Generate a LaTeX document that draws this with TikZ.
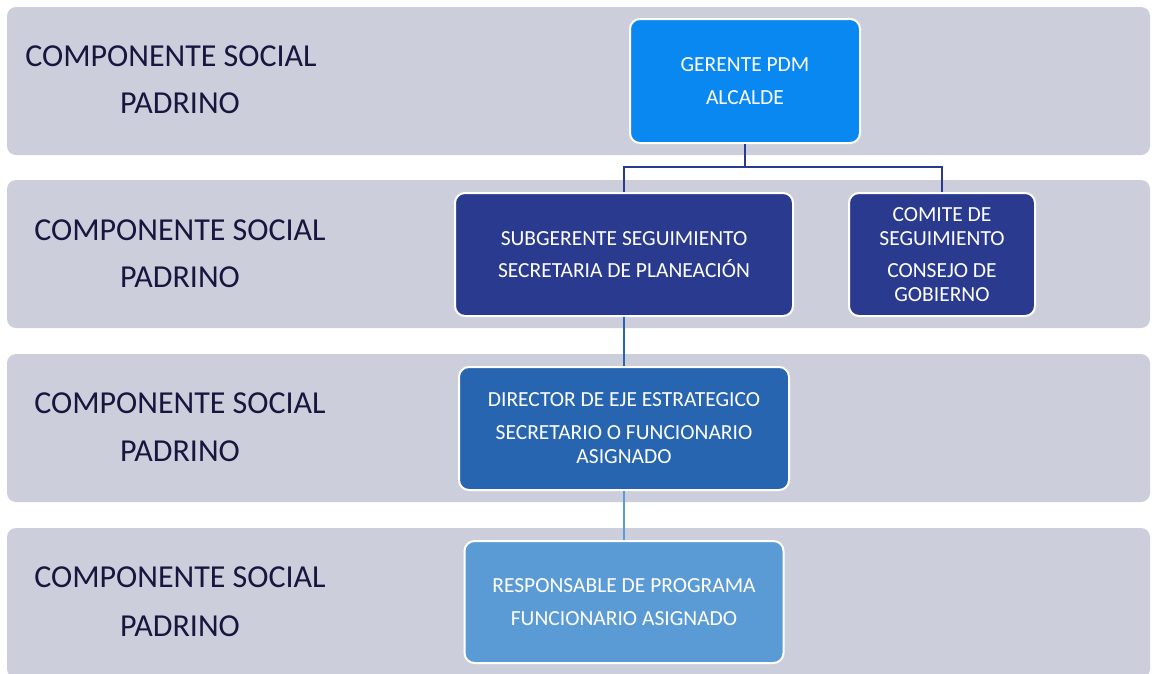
\documentclass[tikz,border=0pt]{standalone}
\usepackage{fontspec}
\setmainfont{Carlito}
\definecolor{band}{HTML}{CDCEDC}
\definecolor{bandtxt}{HTML}{16163E}
\definecolor{cGer}{HTML}{0A88F2}
\definecolor{cSub}{HTML}{2A3B8F}
\definecolor{cDir}{HTML}{2765B0}
\definecolor{cRes}{HTML}{5B9BD5}
\tikzset{
  bandbox/.style={fill=band, draw=none, rounded corners=9pt},
  bandtext/.style={text=bandtxt, font=\fontsize{32}{38}\selectfont, inner sep=0pt, anchor=base},
  orgbox/.style={draw=white, line width=2pt, rounded corners=10pt, text=white, align=center,
    font=\fontsize{21.5}{24}\selectfont, inner sep=0pt},
  conn/.style={line width=2pt}
}
\begin{document}
\begin{tikzpicture}[x=1pt,y=-1pt]
\useasboundingbox (0,0) rectangle (1152,673);
% bands
\path[bandbox] (7,7) rectangle (1150,155);
\path[bandbox] (7,180) rectangle (1150,328);
\path[bandbox] (7,354) rectangle (1150,502);
\path[bandbox] (7,528) rectangle (1150,678);
% band labels
\node[bandtext] (l1a) at (171,66) {COMPONENTE SOCIAL};
\node[bandtext] (l1b) at (180,113) {PADRINO};
\node[bandtext] (l2a) at (180,240) {COMPONENTE SOCIAL};
\node[bandtext] (l2b) at (180,287) {PADRINO};
\node[bandtext] (l3a) at (180,413) {COMPONENTE SOCIAL};
\node[bandtext] (l3b) at (180,461) {PADRINO};
\node[bandtext] (l4a) at (180,587) {COMPONENTE SOCIAL};
\node[bandtext] (l4b) at (180,636) {PADRINO};
% boxes
\node[orgbox, fill=cGer, minimum width=230pt, minimum height=124pt] (ger) at (745,81)
  {GERENTE PDM\\[9pt]ALCALDE};
\node[orgbox, fill=cSub, minimum width=338pt, minimum height=123pt] (sub) at (624,254.5)
  {SUBGERENTE SEGUIMIENTO\\[8pt]SECRETARIA DE PLANEACIÓN};
\node[orgbox, fill=cSub, minimum width=186pt, minimum height=123pt] (com) at (942,254.5)
  {COMITE DE\\SEGUIMIENTO\\[8pt]CONSEJO DE\\GOBIERNO};
\node[orgbox, fill=cDir, minimum width=330pt, minimum height=123pt] (dir) at (624,428.5)
  {DIRECTOR DE EJE ESTRATEGICO\\[9pt]SECRETARIO O FUNCIONARIO\\ASIGNADO};
\node[orgbox, fill=cRes, minimum width=319pt, minimum height=122pt] (res) at (624,602)
  {RESPONSABLE DE PROGRAMA\\[9pt]FUNCIONARIO ASIGNADO};
% connectors
\coordinate (j) at (745,167);
\draw[conn, cSub] (ger.south) -- (j) -| (sub.north);
\draw[conn, cSub] (j) -| (com.north);
\draw[conn, cDir] (sub.south) -- (dir.north);
\draw[conn, cRes] (dir.south) -- (res.north);
\end{tikzpicture}
\end{document}
